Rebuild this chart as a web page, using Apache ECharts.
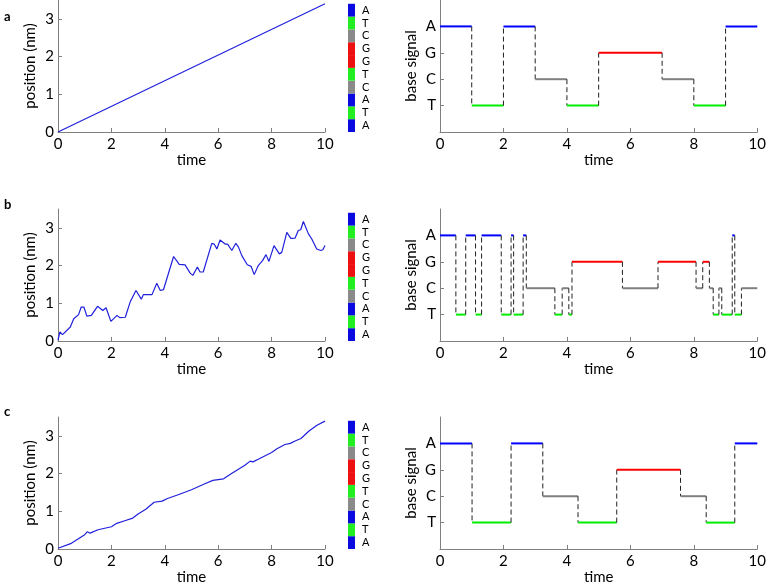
<!DOCTYPE html>
<html><head><meta charset="utf-8">
<script src="https://cdn.jsdelivr.net/npm/echarts@6/dist/echarts.min.js"></script>
<style>html,body{margin:0;padding:0;background:#fff}#c{width:769px;height:587px}</style>
</head><body><div id="c"></div>
<script>
// ---- data ----
const panelLetters = ['a', 'b', 'c'];
const sequenceBottomUp = ['A', 'T', 'A', 'C', 'T', 'G', 'G', 'C', 'T', 'A'];
const sequenceBounds = [0, 0.34, 0.68, 1.02, 1.36, 1.70, 2.04, 2.38, 2.72, 3.06, 3.40];
const signalLevels = ['T', 'C', 'G', 'A'];          // y = 1..4
const signalLevelValues = [1, 2, 3, 4];
const posTicks = [0, 1, 2, 3];
const timeTicks = [0, 2, 4, 6, 8, 10];

const posA = [[0, 0], [10, 3.4]];
const posB = [[0,0.02],[0.07,0.24],[0.17,0.17],[0.46,0.37],[0.59,0.59],[0.77,0.70],[0.87,0.90],[0.97,0.90],[1.08,0.66],[1.25,0.68],[1.48,0.92],[1.68,0.81],[1.80,0.88],[1.98,0.52],[2.21,0.68],[2.31,0.62],[2.52,0.63],[2.71,1.05],[2.92,1.34],[3.12,1.11],[3.20,1.23],[3.52,1.23],[3.70,1.53],[3.83,1.34],[3.95,1.36],[4.33,2.24],[4.54,2.03],[4.76,2.02],[4.95,1.80],[5.05,1.74],[5.22,1.96],[5.32,1.83],[5.44,1.83],[5.76,2.59],[5.85,2.57],[5.95,2.44],[6.07,2.68],[6.26,2.57],[6.35,2.57],[6.51,2.40],[6.66,2.59],[6.76,2.49],[6.88,2.27],[6.94,2.28],[7.09,2.02],[7.23,1.98],[7.35,1.76],[7.50,2.00],[7.66,2.13],[7.79,2.29],[7.90,2.11],[8.09,2.53],[8.29,2.31],[8.38,2.35],[8.57,2.88],[8.72,2.72],[8.88,2.73],[9.00,2.93],[9.09,2.95],[9.19,3.17],[9.38,2.84],[9.50,2.71],[9.69,2.44],[9.84,2.40],[9.92,2.42],[10.0,2.53]];
const posC = [[0,0.02],[0.5,0.15],[1.0,0.38],[1.1,0.46],[1.2,0.42],[1.5,0.51],[2.0,0.59],[2.2,0.68],[2.5,0.75],[2.8,0.82],[3.0,0.93],[3.3,1.06],[3.6,1.24],[3.9,1.27],[4.1,1.34],[4.5,1.44],[5.0,1.57],[5.5,1.73],[5.8,1.82],[6.2,1.86],[6.5,2.0],[7.0,2.22],[7.2,2.33],[7.3,2.31],[7.5,2.38],[8.0,2.56],[8.2,2.66],[8.5,2.77],[8.7,2.80],[8.9,2.87],[9.1,2.93],[9.4,3.13],[9.7,3.28],[10,3.39]];

const stepBoundsA = [0, 1, 2, 3, 4, 5, 7, 8, 9, 10];
const stepBasesA = ['A','T','A','C','T','G','C','T','A'];
const stepBoundsB = [0,0.50,0.81,1.12,1.31,1.93,2.24,2.32,2.62,2.72,3.62,3.85,4.06,4.16,5.75,6.87,8.07,8.28,8.49,8.61,8.79,8.88,9.21,9.29,9.50,10];
const stepBasesB = ['A','T','A','T','A','T','A','T','A','C','T','C','T','G','C','G','C','G','C','T','C','T','A','T','C'];
const stepBoundsC = [0, 1.01, 2.24, 3.24, 4.35, 5.57, 7.58, 8.39, 9.29, 10];
const stepBasesC = ['A','T','A','C','T','G','C','T','A'];

// ---- styles ----
const baseColors = { A: '#0000ff', T: '#00ee00', C: '#808080', G: '#ff0000' };
const barColors  = { A: '#0a0ae0', T: '#22ee22', C: '#8a8a8a', G: '#ee1010' };
const FONT = 'Lato';
const AX = '#808080';

const rowTops = [0, 209, 417];
const rowH = 132;

const chart = echarts.init(document.getElementById('c'), null, { renderer: 'canvas' });

const grids = [], xAxes = [], yAxes = [], series = [], graphics = [];

function axisCommon() {
  return {
    axisLine: { lineStyle: { color: AX, width: 1 } },
    axisTick: { inside: true, length: 4, lineStyle: { color: AX } },
    splitLine: { show: false },
    nameTextStyle: { color: '#000', fontSize: 15, fontFamily: FONT },
  };
}

function levelOf(b) { return signalLevelValues[signalLevels.indexOf(b)]; }

const positions = [posA, posB, posC];
const stepSets = [[stepBoundsA, stepBasesA], [stepBoundsB, stepBasesB], [stepBoundsC, stepBasesC]];

for (let r = 0; r < 3; r++) {
  const top = rowTops[r];
  // left grid
  let gi = grids.length;
  grids.push({ left: 58, top: top, width: 267, height: rowH });
  xAxes.push(Object.assign(axisCommon(), {
    gridIndex: gi, type: 'value', min: 0, max: 10, interval: 2,
    name: 'time', nameLocation: 'middle', nameGap: 21,
    axisLabel: { color: '#000', fontSize: 15, fontFamily: FONT, margin: 5 },
  }));
  yAxes.push(Object.assign(axisCommon(), {
    gridIndex: gi, type: 'value', min: 0, max: 3.5,
    name: 'position (nm)', nameLocation: 'middle', nameGap: 20,
    axisTick: { inside: true, length: 4, lineStyle: { color: AX }, customValues: posTicks },
    axisLabel: { color: '#000', fontSize: 15, fontFamily: FONT, margin: 4, customValues: posTicks },
  }));
  series.push({
    type: 'line', xAxisIndex: gi, yAxisIndex: gi, data: positions[r],
    showSymbol: false, symbol: 'none', lineStyle: { color: '#2020dc', width: 1.2 }, silent: true,
  });

  // color bar grid
  gi = grids.length;
  grids.push({ left: 348, top: top, width: 7, height: rowH });
  xAxes.push({ gridIndex: gi, type: 'value', min: 0, max: 1, show: false });
  yAxes.push({ gridIndex: gi, type: 'value', min: 0, max: 3.5, show: false });
  const barData = sequenceBottomUp.map((b, i) => [sequenceBounds[i], sequenceBounds[i + 1], i]);
  series.push({
    type: 'custom', xAxisIndex: gi, yAxisIndex: gi, data: barData, silent: true,
    renderItem: function (params, api) {
      const y0 = api.value(0), y1 = api.value(1), idx = api.value(2);
      const b = sequenceBottomUp[idx];
      const pTop = api.coord([0, y1]), pBot = api.coord([1, y0]);
      return {
        type: 'group', children: [
          { type: 'rect', shape: { x: pTop[0], y: pTop[1], width: pBot[0] - pTop[0], height: pBot[1] - pTop[1] },
            style: { fill: barColors[b] } },
          { type: 'text', style: { text: b, x: pBot[0] + 7, y: (pTop[1] + pBot[1]) / 2,
            verticalAlign: 'middle', align: 'left', fill: '#000', font: '11px ' + FONT } },
        ]
      };
    }
  });

  // right grid
  gi = grids.length;
  grids.push({ left: 440, top: top, width: 321, height: rowH });
  xAxes.push(Object.assign(axisCommon(), {
    gridIndex: gi, type: 'value', min: 0, max: 10, interval: 2,
    name: 'time', nameLocation: 'middle', nameGap: 21,
    axisLabel: { color: '#000', fontSize: 15, fontFamily: FONT, margin: 5 },
  }));
  yAxes.push(Object.assign(axisCommon(), {
    gridIndex: gi, type: 'value', min: 0, max: 5,
    name: 'base signal', nameLocation: 'middle', nameGap: 21,
    axisTick: { inside: true, length: 4, lineStyle: { color: AX }, customValues: signalLevelValues },
    axisLabel: { color: '#000', fontSize: 15, fontFamily: FONT, margin: 4, customValues: signalLevelValues,
      formatter: v => signalLevels[signalLevelValues.indexOf(v)] || '' },
  }));
  const [bounds, bases] = stepSets[r];
  const stepData = bases.map((b, i) => [bounds[i], bounds[i + 1], levelOf(b), i > 0 ? levelOf(bases[i - 1]) : 0, i]);
  series.push({
    type: 'custom', xAxisIndex: gi, yAxisIndex: gi, data: stepData, silent: true,
    renderItem: (function (basesArr) {
      return function (params, api) {
        const t0 = api.value(0), t1 = api.value(1), lv = api.value(2), pv = api.value(3), idx = api.value(4);
        const p0 = api.coord([t0, lv]), p1 = api.coord([t1, lv]);
        const children = [];
        if (pv > 0) {
          const q = api.coord([t0, pv]);
          children.push({ type: 'line', shape: { x1: q[0], y1: q[1], x2: p0[0], y2: p0[1] },
            style: { stroke: '#222', lineWidth: 1, lineDash: [5, 3] } });
        }
        children.push({ type: 'line', shape: { x1: p0[0], y1: p0[1], x2: p1[0], y2: p1[1] },
          style: { stroke: baseColors[basesArr[idx]], lineWidth: 2 } });
        return { type: 'group', children: children };
      };
    })(bases)
  });

  graphics.push({ type: 'text', left: 4, top: [10, 198, 405][r],
    style: { text: panelLetters[r], font: 'bold 13px ' + FONT, fill: '#000' } });
}

chart.setOption({
  animation: false,
  backgroundColor: '#fff',
  grid: grids, xAxis: xAxes, yAxis: yAxes, series: series, graphic: graphics,
});
</script></body></html>
